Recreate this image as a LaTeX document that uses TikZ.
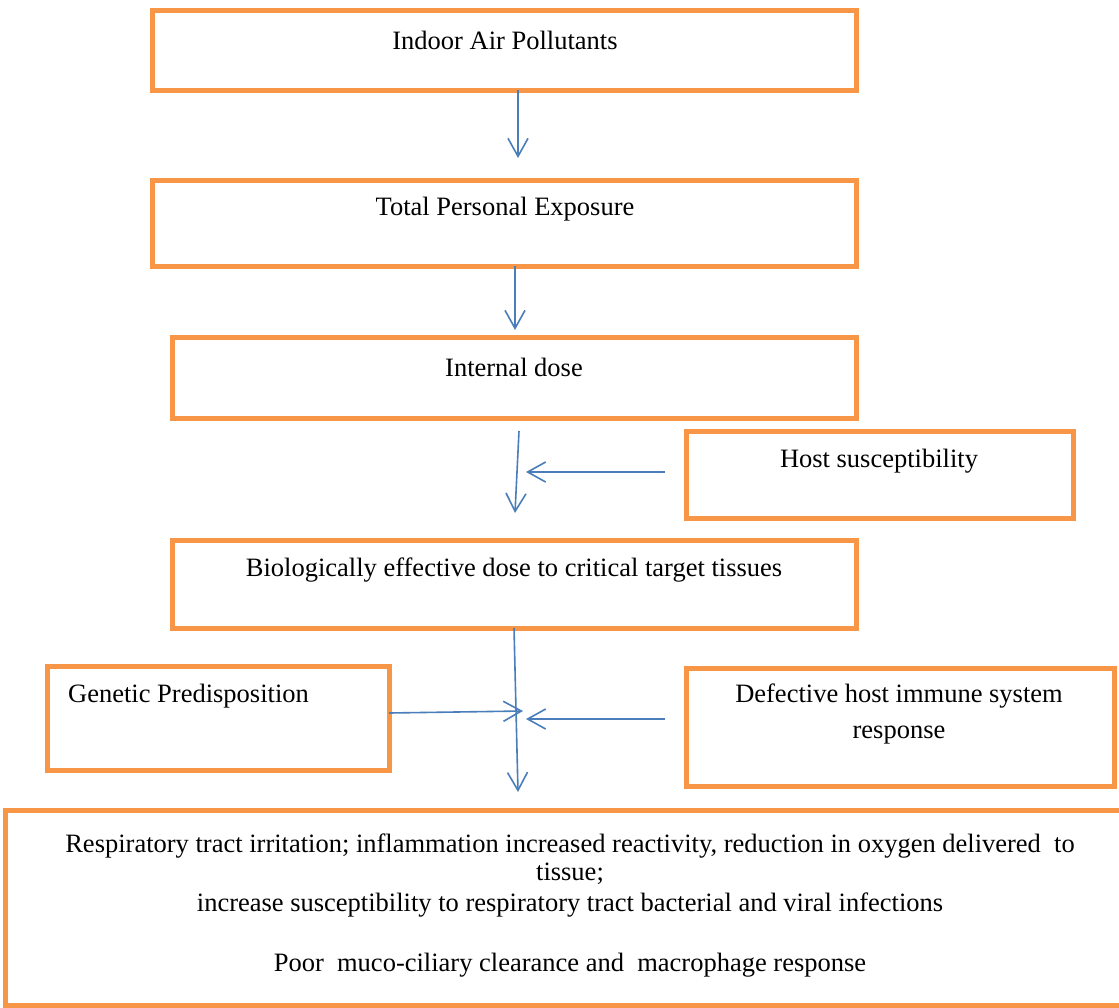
\documentclass[tikz,border=0pt]{standalone}
\usepackage{fontspec}
\setmainfont{Liberation Serif}
\usetikzlibrary{arrows.meta}
\definecolor{boxorange}{HTML}{F79646}
\definecolor{arrowblue}{HTML}{4A7EBB}
\begin{document}
\begin{tikzpicture}[x=1pt,y=-1pt,
  box/.style={draw=boxorange,line width=5pt,inner sep=0pt,rectangle},
  txt/.style={inner sep=0pt,font=\fontsize{26.5}{30}\selectfont,align=center},
  conn/.style={draw=arrowblue,line width=1.6pt,-{Straight Barb[length=18pt,width=20pt,line width=1.6pt]}}]
\useasboundingbox (0,0) rectangle (1119,1007);
\clip (0,0) rectangle (1119,1007);
\fill[white] (0,0) rectangle (1119,1007);
% boxes
\node[box,minimum width=704pt,minimum height=80pt] (b1) at (504,50) {};
\node[box,minimum width=704pt,minimum height=86pt] (b2) at (504,223) {};
\node[box,minimum width=684pt,minimum height=81pt] (b3) at (514,377.5) {};
\node[box,minimum width=387pt,minimum height=87pt] (b4) at (879.5,474.5) {};
\node[box,minimum width=684pt,minimum height=88pt] (b5) at (514,584) {};
\node[box,minimum width=342pt,minimum height=104pt] (b6) at (218,718) {};
\node[box,minimum width=428pt,minimum height=118pt] (b7) at (900,727) {};
\node[box,minimum width=1130pt,minimum height=195pt] (b8) at (570,907.5) {};
% texts
\node[txt] (t1) at (505,40) {Indoor Air Pollutants};
\node[txt] (t2) at (505,209) {Total Personal Exposure};
\node[txt] (t3) at (514,367) {Internal dose};
\node[txt] (t4) at (879,461) {Host susceptibility};
\node[txt] (t5) at (514,570) {Biologically effective dose to critical target tissues};
\node[txt,anchor=west] (t6) at (68,696) {Genetic Predisposition};
\node[txt,font=\fontsize{26.5}{36}\selectfont] (t7) at (899,714) {Defective host immune system\\response};
\node[txt,anchor=north] (t8) at (570,834) {Respiratory tract irritation; inflammation increased reactivity, reduction in oxygen delivered\ \ to\\[-2pt]tissue;\\[1pt]increase susceptibility to respiratory tract bacterial and viral infections\\[30pt]Poor\ \ muco-ciliary clearance and\ \ macrophage response};
% connector points
\coordinate (a1s) at (518,90);
\coordinate (a1e) at (518,158);
\coordinate (a2s) at (515,266);
\coordinate (a2e) at (515,330);
\coordinate (a3s) at (519,431);
\coordinate (a3e) at (515,513);
\coordinate (h1) at (665,472);
\coordinate (h2) at (526,472);
\coordinate (m1) at (514,628);
\coordinate (m2) at (518,792);
\coordinate (g1) at (389,713);
\coordinate (g2) at (523,711);
\coordinate (d1) at (665,719);
\coordinate (d2) at (526,719);
\draw[conn] (a1s) -- (a1e);
\draw[conn] (a2s) -- (a2e);
\draw[conn] (a3s) -- (a3e);
\draw[conn] (h1) -- (h2);
\draw[conn] (m1) -- (m2);
\draw[conn] (g1) -- (g2);
\draw[conn] (d1) -- (d2);
\end{tikzpicture}
\end{document}
